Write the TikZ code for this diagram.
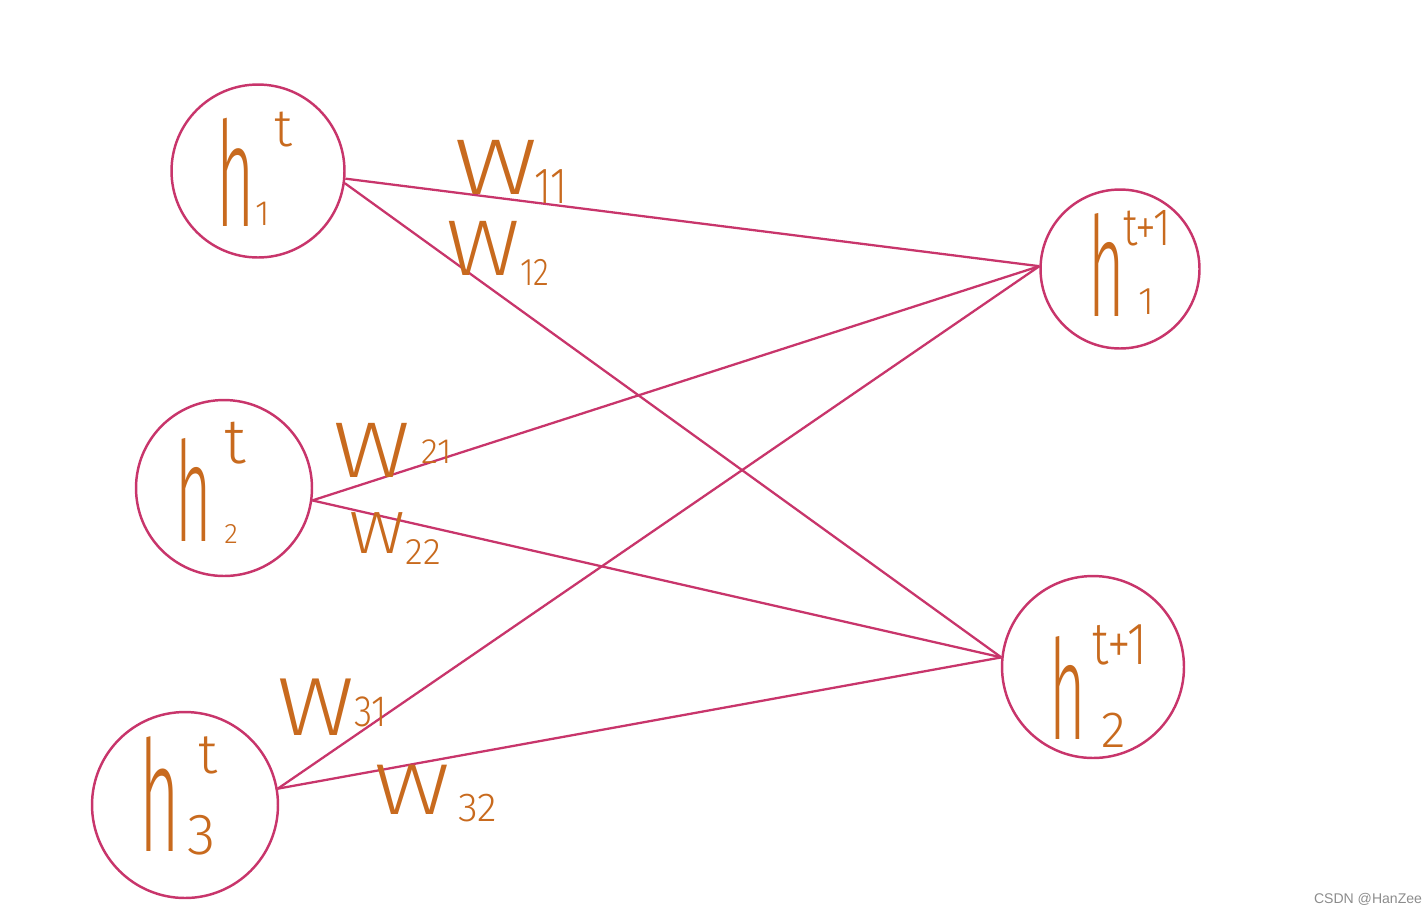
\documentclass[tikz,border=0pt]{standalone}
\usepackage{graphicx}
\usepackage{fontspec}
\setmainfont{Liberation Sans}
\newfontfamily\handL{Fira Sans Light}
\definecolor{lc}{HTML}{C8356B}
\definecolor{tc}{HTML}{C86A1E}
\newcommand{\fsz}[1]{\fontsize{#1}{#1}\selectfont}
\newcommand{\hh}{\scalebox{.45}[1]{h}}
\newcommand{\ww}[1]{\scalebox{#1}[1]{W}}
\tikzset{
  neuron/.style={circle, draw=lc, line width=1.4pt, inner sep=0pt},
  conn/.style={draw=lc, line width=1.3pt},
  lab/.style={text=tc, inner sep=0pt, anchor=center},
}
\begin{document}
\begin{tikzpicture}[x=0.02cm, y=-0.02cm]
\useasboundingbox (0,0) rectangle (1425,914);
% neurons
\node[neuron, minimum size=3.46cm] (c1) at (258,171) {};
\node[neuron, minimum size=3.52cm] (c2) at (224,488) {};
\node[neuron, minimum size=3.72cm] (c3) at (185,805) {};
\node[neuron, minimum size=3.18cm] (c4) at (1120,269) {};
\node[neuron, minimum size=3.64cm] (c5) at (1093,667) {};
% connectors
\draw[conn] (c1.-5) -- (c4.178);
\draw[conn] (c1.-8) -- (c5.174);
\draw[conn] (c2.-8) -- (c4.178);
\draw[conn] (c2.-8) -- (c5.174);
\draw[conn] (c3.10) -- (c4.178);
\draw[conn] (c3.10) -- (c5.174);
% neuron labels
\node[lab, font=\handL\fsz{83}] (h1) at (236,172) {\hh};
\node[lab, font=\handL\fsz{30}] (h1s) at (283,130) {t};
\node[lab, font=\handL\fsz{20}] (h1b) at (263,214) {1};
\node[lab, font=\handL\fsz{79}] (h2) at (194,490) {\hh};
\node[lab, font=\handL\fsz{36}] (h2s) at (235,443) {t};
\node[lab, font=\handL\fsz{16}] (h2b) at (231,534) {2};
\node[lab, font=\handL\fsz{88}] (h3) at (160,794) {\hh};
\node[lab, font=\handL\fsz{32}] (h3s) at (208,755) {t};
\node[lab, font=\handL\fsz{33}] (h3b) at (202,835) {3};
\node[lab, font=\handL\fsz{79}] (h4) at (1107,265) {\hh};
\node[lab, font=\handL\fsz{30}] (h4s) at (1147,228) {\scalebox{.8}[1]{t+1}};
\node[lab, font=\handL\fsz{22}] (h4b) at (1146,302) {1};
\node[lab, font=\handL\fsz{79}] (h5) at (1068,688) {\hh};
\node[lab, font=\handL\fsz{34}] (h5s) at (1120,645) {\scalebox{.8}[1]{t+1}};
\node[lab, font=\handL\fsz{29}] (h5b) at (1114,730) {2};
% weight labels
\node[lab, font=\handL\fsz{45}] (w11) at (496,167) {\ww{1.3}};
\node[lab, font=\handL\fsz{29}] (w11s) at (551,187) {\scalebox{.8}[1]{11}};
\node[lab, font=\handL\fsz{45}] (w12) at (483,248) {\ww{1.15}};
\node[lab, font=\handL\fsz{22}] (w12s) at (535,272) {\scalebox{.85}[1]{12}};
\node[lab, font=\handL\fsz{45}] (w21) at (372,450) {\ww{1.2}};
\node[lab, font=\handL\fsz{20}] (w21s) at (437,452) {21};
\node[lab, font=\handL\fsz{34}] (w22) at (377,533) {\ww{1.15}};
\node[lab, font=\handL\fsz{21}] (w22s) at (423,552) {22};
\node[lab, font=\handL\fsz{47}] (w31) at (316,707) {\ww{1.15}};
\node[lab, font=\handL\fsz{25}] (w31s) at (371,712) {\scalebox{.85}[1]{31}};
\node[lab, font=\handL\fsz{41}] (w32) at (412,790) {\ww{1.3}};
\node[lab, font=\handL\fsz{23}] (w32s) at (478,808) {32};
% watermark
\node[text=black!45, inner sep=0pt, font=\fsz{8}] (wm) at (1368,899) {CSDN @HanZee};
\end{tikzpicture}
\end{document}
